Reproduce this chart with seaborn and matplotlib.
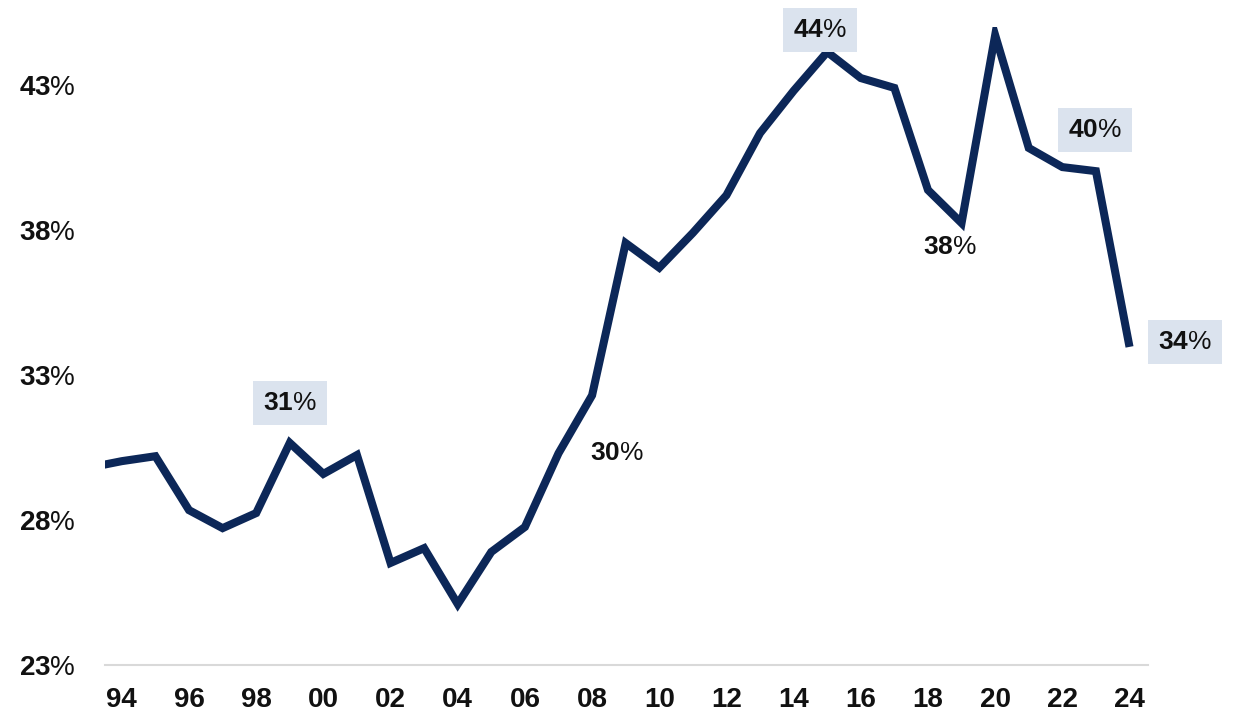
import matplotlib
matplotlib.use("Agg")
import matplotlib.pyplot as plt
import seaborn as sns
import pandas as pd
from matplotlib.ticker import FuncFormatter

# Annual share, percent
years = list(range(1993, 2025))
share = [29.8, 30.03, 30.2, 28.34, 27.72, 28.24, 30.66, 29.59, 30.24, 26.52,
         27.03, 25.1, 26.9, 27.76, 30.3, 32.3, 37.55, 36.7, 37.9, 39.2,
         41.34, 42.8, 44.14, 43.24, 42.9, 39.38, 38.24, 44.72, 40.83, 40.17,
         40.03, 33.97]

# Years that carry a value label
label_years = [1999, 2007, 2015, 2019, 2023, 2024]
label_boxed = [True, False, True, False, True, True]

y_ticks = [23, 28, 33, 38, 43]
x_ticks = list(range(1994, 2025, 2))

sns.set_theme(style="white")
plt.rcParams["font.family"] = ["Liberation Sans", "DejaVu Sans"]
plt.rcParams["mathtext.fontset"] = "custom"
plt.rcParams["mathtext.rm"] = "Liberation Sans"
plt.rcParams["mathtext.bf"] = "Liberation Sans:bold"

navy = "#0c2758"
box_col = "#dbe3ee"
txt_col = "#111111"

df = pd.DataFrame({"year": years, "share": share})

fig = plt.figure(figsize=(12.4, 7.13), dpi=100)
ax = fig.add_axes([0.0847, 0.0673, 0.9258 - 0.0847, 0.9621 - 0.0673])

sns.lineplot(data=df, x="year", y="share", ax=ax, color=navy, linewidth=5.8,
             solid_joinstyle="miter", solid_capstyle="butt", clip_on=True)

ax.set_xlim(1993.5, 2024.55)
ax.set_ylim(23, 45)
ax.set_xlabel("")
ax.set_ylabel("")

ax.set_yticks(y_ticks)
ax.yaxis.set_major_formatter(FuncFormatter(lambda v, p: r"$\mathbf{%d}$%%" % round(v)))
ax.set_xticks(x_ticks)
ax.set_xticklabels([f"{y % 100:02d}" for y in x_ticks], fontweight="bold")

ax.tick_params(axis="y", length=0, pad=21, labelsize=20, labelcolor=txt_col)
ax.tick_params(axis="x", length=0, pad=16, labelsize=20, labelcolor=txt_col)

for side in ["top", "right", "left"]:
    ax.spines[side].set_visible(False)
ax.spines["bottom"].set_color("#d9d9d9")
ax.spines["bottom"].set_linewidth(1.5)
ax.grid(False)

# label placement relative to each labelled point (years, percentage points)
offsets = {1999: (0.0, 1.37), 2007: (1.75, 0.0), 2015: (-0.22, 0.76),
           2019: (-0.35, -0.83), 2023: (-0.04, 1.42), 2024: (1.64, 0.17)}

lookup = dict(zip(years, share))
for yr, boxed in zip(label_years, label_boxed):
    v = lookup[yr]
    dx, dy = offsets[yr]
    kw = {}
    if boxed:
        kw["bbox"] = dict(boxstyle="square,pad=0.38", facecolor=box_col,
                          edgecolor="none")
    ax.text(yr + dx, v + dy, r"$\mathbf{%d}$%%" % round(v), ha="center",
            va="center", fontsize=19, color=txt_col, clip_on=False, **kw)

fig.savefig("out.png", dpi=100, facecolor="white")
